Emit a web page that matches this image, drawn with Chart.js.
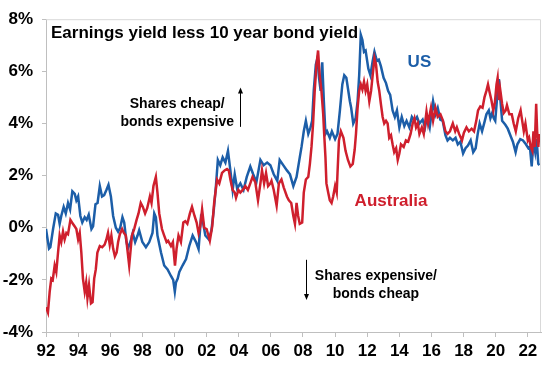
<!DOCTYPE html>
<html>
<head>
<meta charset="utf-8">
<script src="https://cdn.jsdelivr.net/npm/chart.js@4.4.1/dist/chart.umd.min.js"></script>
<style>
  html, body { margin: 0; padding: 0; background: #fff; }
  #wrap { width: 548px; height: 366px; }
</style>
</head>
<body>
<div id="wrap"><canvas id="chart" width="548" height="366"></canvas></div>
<script>
// earnings yield less 10 year bond yield, %
const usYears = [
  1992.00, 1992.19, 1992.27, 1992.44, 1992.61, 1992.75, 1992.85, 1992.95, 1993.10, 1993.23,
  1993.37, 1993.50, 1993.64, 1993.79, 1993.89, 1994.00, 1994.14, 1994.26, 1994.41, 1994.53,
  1994.66, 1994.83, 1994.93, 1995.08, 1995.21, 1995.35, 1995.49, 1995.62, 1995.76, 1995.89,
  1996.04, 1996.18, 1996.35, 1996.49, 1996.62, 1996.76, 1996.87, 1997.00, 1997.10, 1997.28,
  1997.40, 1997.55, 1997.70, 1997.80, 1998.00, 1998.22, 1998.43, 1998.63, 1998.74, 1998.84,
  1998.94, 1999.16, 1999.36, 1999.57, 1999.78, 1999.92, 2000.02, 2000.09, 2000.20, 2000.30,
  2000.50, 2000.72, 2000.92, 2001.13, 2001.34, 2001.50, 2001.65, 2001.75, 2001.92, 2002.14,
  2002.30, 2002.45, 2002.58, 2002.70, 2002.85, 2003.00, 2003.17, 2003.33, 2003.48, 2003.62,
  2003.75, 2003.90, 2004.10, 2004.30, 2004.50, 2004.72, 2004.90, 2005.10, 2005.35, 2005.55,
  2005.77, 2005.97, 2006.18, 2006.40, 2006.55, 2006.77, 2007.00, 2007.19, 2007.40, 2007.60,
  2007.80, 2007.91, 2008.05, 2008.18, 2008.33, 2008.47, 2008.57, 2008.67, 2008.80, 2008.90,
  2009.00, 2009.10, 2009.20, 2009.30, 2009.40, 2009.50, 2009.67, 2009.80, 2010.00, 2010.15,
  2010.30, 2010.45, 2010.57, 2010.70, 2010.92, 2011.00, 2011.13, 2011.28, 2011.40, 2011.50,
  2011.60, 2011.70, 2011.80, 2011.90, 2012.07, 2012.20, 2012.34, 2012.45, 2012.60, 2012.72,
  2012.85, 2013.02, 2013.17, 2013.30, 2013.43, 2013.58, 2013.72, 2013.85, 2014.00, 2014.15,
  2014.31, 2014.45, 2014.62, 2014.78, 2014.94, 2015.10, 2015.25, 2015.45, 2015.60, 2015.72,
  2015.89, 2016.10, 2016.25, 2016.39, 2016.55, 2016.70, 2016.87, 2017.00, 2017.15, 2017.33,
  2017.50, 2017.64, 2017.80, 2017.97, 2018.12, 2018.27, 2018.44, 2018.60, 2018.75, 2018.88,
  2019.00, 2019.15, 2019.30, 2019.42, 2019.57, 2019.67, 2019.78, 2019.88, 2019.97, 2020.10,
  2020.20, 2020.30, 2020.40, 2020.60, 2020.75, 2020.97, 2021.07, 2021.24, 2021.35, 2021.53,
  2021.70, 2021.88, 2022.03, 2022.13, 2022.24, 2022.30, 2022.38, 2022.46, 2022.55, 2022.65,
  2022.72
]
const usValues = [
  -0.05, -0.8, -0.75, -0.05, 0.55, 0.5, 0.15, 0.45, 0.8, 0.55,
  0.95, 0.7, 1.4, 1.3, 1.05, 1.2, 0.45, 0.2, 0.4, 0.3,
  0.5, -0.05, 0.05, 0.9, 0.95, 1.6, 1.2, 1.25, 1.45, 1.65,
  1.2, 0.45, 0.0, -0.15, 0.0, 0.4, 0.2, -0.5, -0.8, -0.5,
  -0.2, -0.55, -0.3, -0.1, -0.55, -0.75, -0.55, -0.2, 0.55, 0.4,
  -0.3, -0.95, -1.45, -1.6, -1.85, -2.0, -2.45, -2.1, -1.95, -1.7,
  -1.45, -1.2, -0.7, -0.3, -0.55, -0.82, 0.4, 0.3, -0.3, -0.45,
  -0.1, 0.7, 1.6, 2.6, 2.4, 2.7, 2.5, 2.95, 2.2, 1.45,
  2.05, 1.5, 1.7, 1.45, 1.95, 2.35, 2.05, 1.75, 2.6, 2.4,
  2.5, 2.4, 2.05, 1.8, 2.6, 2.4, 2.2, 2.05, 1.6, 1.95,
  2.7, 3.1, 3.7, 4.1, 3.6, 3.85, 4.1, 5.25, 6.25, 6.5,
  5.75, 5.25, 6.35, 4.85, 3.6, 3.7, 3.45, 3.7, 3.4, 3.6,
  4.5, 5.5, 5.85, 5.75, 4.85, 4.6, 4.0, 4.2, 4.85, 5.85,
  7.4, 7.2, 6.75, 6.8, 6.1, 5.85, 6.4, 6.75, 6.4, 6.45,
  6.2, 5.75, 5.55, 5.25, 5.1, 4.5, 4.25, 4.5, 3.85, 4.25,
  3.9, 4.1, 3.85, 4.25, 4.1, 4.25, 4.0, 4.15, 3.85, 4.25,
  3.85, 4.85, 4.35, 4.6, 4.15, 4.1, 3.55, 3.35, 3.45, 3.35,
  3.45, 3.2, 3.3, 2.85, 3.05, 3.15, 3.35, 2.9, 3.05, 3.6,
  4.0, 3.7, 4.05, 4.35, 4.5, 4.2, 4.4, 4.2, 4.1, 5.1,
  5.7, 4.85, 4.1, 3.95, 3.8, 3.45, 3.3, 2.9, 3.2, 3.4,
  3.35, 3.2, 3.05, 3.1, 2.35, 2.9, 3.2, 2.9, 3.4, 2.45,
  2.4
]
const auYears = [
  1992.00, 1992.12, 1992.23, 1992.33, 1992.42, 1992.54, 1992.64, 1992.75, 1992.85, 1992.95,
  1993.06, 1993.16, 1993.27, 1993.37, 1993.52, 1993.62, 1993.79, 1993.89, 1994.00, 1994.10,
  1994.20, 1994.30, 1994.41, 1994.50, 1994.58, 1994.68, 1994.80, 1994.90, 1995.00, 1995.10,
  1995.20, 1995.35, 1995.50, 1995.65, 1995.76, 1995.86, 1995.97, 1996.07, 1996.18, 1996.29,
  1996.40, 1996.49, 1996.60, 1996.74, 1996.85, 1996.97, 1997.18, 1997.35, 1997.49, 1997.64,
  1997.76, 1997.90, 1998.03, 1998.17, 1998.30, 1998.47, 1998.57, 1998.69, 1998.84, 1998.94,
  1999.05, 1999.22, 1999.36, 1999.51, 1999.60, 1999.78, 1999.90, 2000.03, 2000.13, 2000.25,
  2000.40, 2000.55, 2000.67, 2000.80, 2000.96, 2001.09, 2001.25, 2001.38, 2001.50, 2001.60,
  2001.72, 2001.85, 2002.00, 2002.20, 2002.35, 2002.47, 2002.65, 2002.79, 2002.96, 2003.12,
  2003.27, 2003.38, 2003.48, 2003.62, 2003.75, 2003.83, 2003.98, 2004.10, 2004.25, 2004.41,
  2004.57, 2004.72, 2004.86, 2005.03, 2005.20, 2005.35, 2005.45, 2005.58, 2005.70, 2005.83,
  2005.97, 2006.04, 2006.18, 2006.36, 2006.50, 2006.66, 2006.80, 2007.00, 2007.12, 2007.27,
  2007.40, 2007.50, 2007.60, 2007.70, 2007.80, 2007.95, 2008.05, 2008.18, 2008.33, 2008.43,
  2008.53, 2008.63, 2008.73, 2008.84, 2008.94, 2009.04, 2009.15, 2009.26, 2009.32, 2009.40,
  2009.46, 2009.57, 2009.67, 2009.78, 2009.88, 2010.00, 2010.10, 2010.15, 2010.24, 2010.36,
  2010.52, 2010.65, 2010.80, 2010.95, 2011.10, 2011.22, 2011.30, 2011.40, 2011.50, 2011.60,
  2011.70, 2011.80, 2011.90, 2012.00, 2012.13, 2012.24, 2012.34, 2012.45, 2012.55, 2012.65,
  2012.75, 2012.85, 2012.96, 2013.06, 2013.17, 2013.27, 2013.37, 2013.48, 2013.58, 2013.68,
  2013.80, 2013.90, 2014.00, 2014.10, 2014.27, 2014.41, 2014.55, 2014.70, 2014.83, 2014.94,
  2015.04, 2015.15, 2015.25, 2015.40, 2015.52, 2015.69, 2015.79, 2015.97, 2016.10, 2016.25,
  2016.39, 2016.56, 2016.72, 2016.87, 2017.00, 2017.15, 2017.33, 2017.48, 2017.58, 2017.72,
  2017.90, 2018.02, 2018.18, 2018.33, 2018.50, 2018.65, 2018.79, 2018.90, 2019.04, 2019.18,
  2019.30, 2019.42, 2019.52, 2019.62, 2019.73, 2019.85, 2019.95, 2020.05, 2020.12, 2020.20,
  2020.28, 2020.40, 2020.50, 2020.62, 2020.70, 2020.85, 2021.00, 2021.12, 2021.25, 2021.40,
  2021.55, 2021.65, 2021.75, 2021.85, 2022.00, 2022.08, 2022.18, 2022.28, 2022.35, 2022.43,
  2022.52, 2022.58, 2022.65, 2022.72
]
const auValues = [
  -3.05, -3.25, -2.45, -1.95, -2.0, -1.45, -1.7, -0.95, -0.3, -0.55,
  -0.15, -0.45, -0.2, -0.25, 0.3, 0.2, 0.05, -0.05, -0.45, -0.2,
  -0.95, -1.95, -2.45, -2.1, -2.7, -2.2, -2.9, -2.85, -1.95, -1.6,
  -0.95, -0.7, -0.75, -0.65, -0.45, -0.2, -0.65, -0.3, -0.8, -1.1,
  -0.95, -0.55, -0.25, -0.05, -0.2, -0.3, -1.45, -0.3, -0.05, 0.3,
  0.55, 0.95, 0.8, 0.55, 0.75, 1.2, 0.95, 1.6, 1.95, 1.35,
  0.55, -0.05, -0.3, -0.55, -0.5, -0.7, -0.55, -1.45, -0.8, -0.3,
  -0.55, 0.2, 0.25, 0.15, 0.55, 0.8, 0.45, 0.2, -0.2, 0.05,
  0.7, 0.0, -0.05, -0.5, 0.05, 0.95, 1.85, 1.7, 2.1, 2.2,
  2.25, 2.2, 1.85, 1.45, 1.35, 1.15, 1.45, 1.35, 1.45, 1.6,
  1.45, 1.7, 1.95, 1.75, 1.05, 1.7, 2.2, 1.7, 2.1, 1.6,
  1.7, 1.8, 1.45, 0.85, 1.7, 1.85, 1.55, 1.2, 1.05, 0.95,
  0.45, 0.15, 0.95, 0.45, 0.15, 0.2, 1.35, 1.85, 1.95, 2.45,
  3.1, 4.0, 5.25, 6.25, 6.8, 5.85, 5.25, 4.35, 3.6, 2.7,
  1.7, 1.35, 1.05, 0.95, 1.2, 1.6, 1.35, 2.1, 3.35, 3.7,
  3.45, 2.95, 2.6, 2.35, 2.45, 3.0, 3.6, 4.6, 5.25, 5.5,
  5.3, 5.6, 5.25, 5.5, 4.85, 5.25, 5.85, 6.5, 6.25, 5.6,
  5.25, 4.75, 4.25, 4.0, 4.1, 4.0, 3.45, 3.55, 3.2, 2.9,
  3.05, 2.6, 2.85, 3.2, 3.1, 3.35, 3.3, 3.6, 4.0, 4.2,
  3.85, 4.0, 3.6, 3.85, 3.6, 4.45, 4.0, 4.6, 4.1, 4.6,
  4.25, 4.35, 4.1, 3.7, 3.6, 3.7, 4.0, 3.7, 3.85, 3.6,
  3.35, 3.65, 3.85, 3.7, 3.8, 3.7, 4.1, 4.5, 4.65, 4.6,
  5.0, 5.25, 5.5, 5.2, 4.9, 4.5, 4.8, 5.5, 5.75, 4.9,
  5.3, 4.75, 4.4, 4.5, 4.7, 4.35, 4.35, 4.0, 3.7, 4.2,
  4.5, 4.1, 3.7, 4.0, 3.35, 3.45, 3.1, 2.95, 3.7, 3.1,
  4.75, 3.7, 3.1, 3.6
]
const tickYears = [1992, 1994, 1996, 1998, 2000, 2002, 2004, 2006, 2008, 2010, 2012, 2014, 2016, 2018, 2020, 2022]
const yTicks = [-4, -2, 0, 2, 4, 6, 8]

const blue = '#1c5ea8'
const red = '#cf1f2d'
const font = '"Liberation Sans", Arial, sans-serif'

// text labels and arrows inside the plot
const notes = {
  id: 'notes',
  afterDraw (chart) {
    const { ctx, chartArea: a, scales: { x, y } } = chart
    ctx.save()

    // light frame top and right
    ctx.strokeStyle = '#d9d9d9'
    ctx.lineWidth = 1
    ctx.beginPath()
    ctx.moveTo(a.left, a.top + 0.5)
    ctx.lineTo(a.right - 0.5, a.top + 0.5)
    ctx.lineTo(a.right - 0.5, a.bottom)
    ctx.stroke()

    ctx.textBaseline = 'middle'
    ctx.fillStyle = '#000'
    ctx.font = 'bold 17px ' + font
    ctx.textAlign = 'left'
    ctx.fillText('Earnings yield less 10 year bond yield', a.left + 5, a.top + 14)

    ctx.textAlign = 'center'
    ctx.fillStyle = blue
    ctx.fillText('US', x.getPixelForValue(2015.25), y.getPixelForValue(6.33))
    ctx.fillStyle = red
    ctx.fillText('Australia', x.getPixelForValue(2013.48), y.getPixelForValue(1.0))

    ctx.fillStyle = '#000'
    ctx.font = 'bold 14px ' + font
    ctx.fillText('Shares cheap/', x.getPixelForValue(2000.17), y.getPixelForValue(4.74))
    ctx.fillText('bonds expensive', x.getPixelForValue(2000.17), y.getPixelForValue(4.05))
    ctx.fillText('Shares expensive/', x.getPixelForValue(2012.54), y.getPixelForValue(-1.87))
    ctx.fillText('bonds cheap', x.getPixelForValue(2012.54), y.getPixelForValue(-2.54))

    const arrow = (yr, from, to) => {
      const px = Math.round(x.getPixelForValue(yr)) + 0.5
      const y0 = y.getPixelForValue(from)
      const y1 = y.getPixelForValue(to)
      const dir = y1 < y0 ? 1 : -1
      ctx.strokeStyle = '#000'
      ctx.lineWidth = 1
      ctx.beginPath()
      ctx.moveTo(px, y0)
      ctx.lineTo(px, y1 + dir * 4)
      ctx.stroke()
      ctx.beginPath()
      ctx.moveTo(px, y1)
      ctx.lineTo(px - 2.5, y1 + dir * 6)
      ctx.lineTo(px + 2.5, y1 + dir * 6)
      ctx.closePath()
      ctx.fill()
    }
    arrow(2004.11, 3.87, 5.38)
    arrow(2008.18, -1.23, -2.77)

    ctx.restore()
  }
}

const ctx = document.getElementById('chart').getContext('2d')
const myChart = new Chart(ctx, {
  type: 'line',
  data: {
    datasets: [
      {
        label: 'Australia',
        data: auYears.map((yr, i) => ({ x: yr, y: auValues[i] })),
        borderColor: red,
        borderWidth: 2.5,
        pointRadius: 0,
        tension: 0,
        order: 0
      },
      {
        label: 'US',
        data: usYears.map((yr, i) => ({ x: yr, y: usValues[i] })),
        borderColor: blue,
        borderWidth: 2.5,
        pointRadius: 0,
        tension: 0,
        order: 1
      }
    ]
  },
  options: {
    responsive: false,
    animation: false,
    layout: { padding: { top: 13, right: 7, left: 0, bottom: 0 } },
    plugins: {
      legend: { display: false },
      tooltip: { enabled: false }
    },
    scales: {
      x: {
        type: 'linear',
        min: 1992,
        max: 2022.82,
        afterBuildTicks: (scale) => { scale.ticks = tickYears.map(v => ({ value: v })) },
        afterFit: (scale) => { scale.height = 34 },
        grid: { drawOnChartArea: false, color: '#bfbfbf', tickLength: 5 },
        border: { color: '#bfbfbf' },
        ticks: {
          maxRotation: 0,
          autoSkip: false,
          padding: 4,
          color: '#000',
          font: { family: font, size: 17, weight: 'bold' },
          callback: (v) => String(v).slice(2)
        }
      },
      y: {
        min: -4,
        max: 8,
        afterBuildTicks: (scale) => { scale.ticks = yTicks.map(v => ({ value: v })) },
        afterFit: (scale) => { scale.width = 46 },
        grid: { drawOnChartArea: false, color: '#bfbfbf', tickLength: 4 },
        border: { color: '#bfbfbf' },
        ticks: {
          padding: 9,
          color: '#000',
          font: { family: font, size: 17, weight: 'bold' },
          callback: (v) => v + '%'
        }
      }
    }
  },
  plugins: [notes]
})
</script>
</body>
</html>
